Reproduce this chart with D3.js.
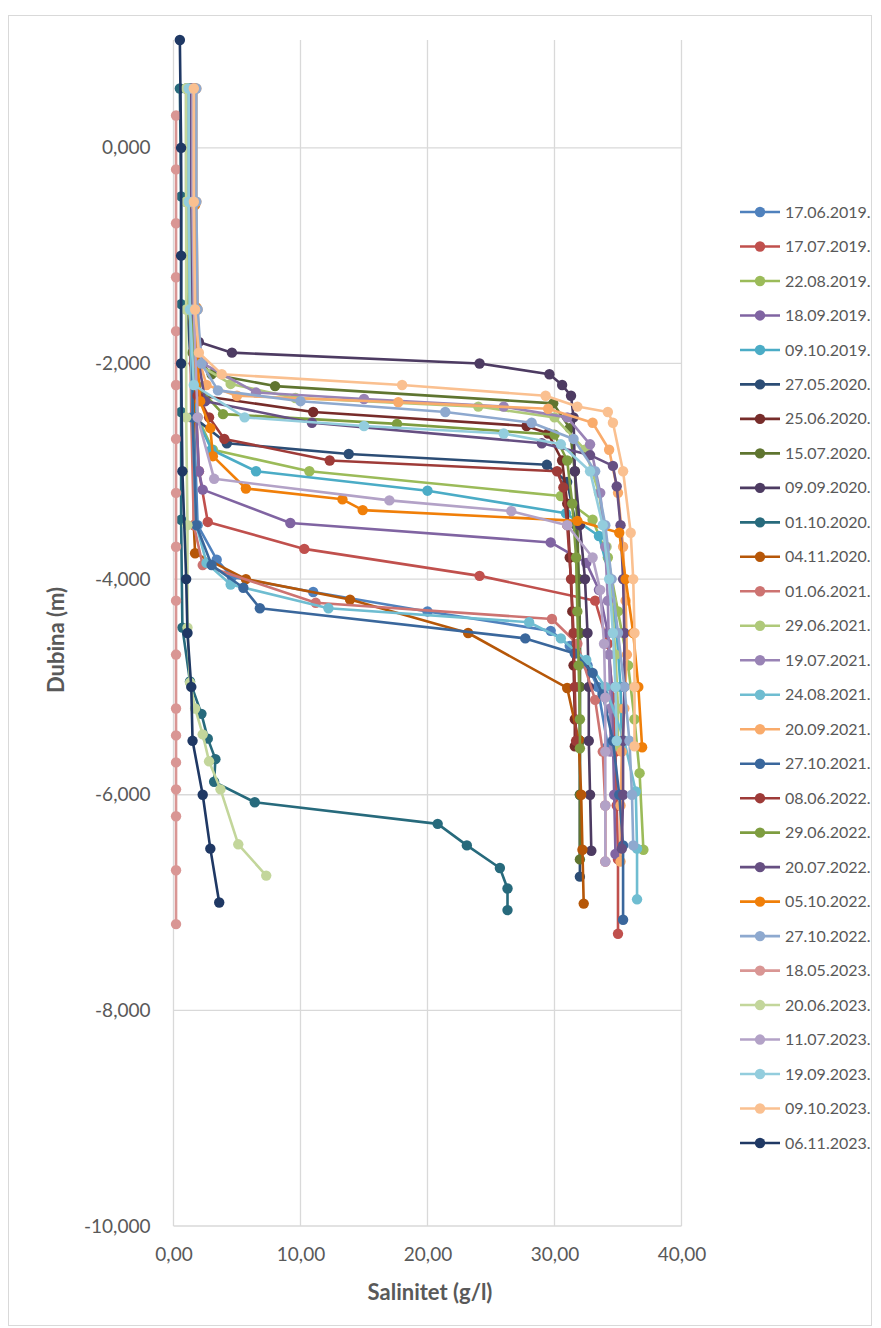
<!DOCTYPE html>
<html>
<head>
<meta charset="utf-8">
<script src="https://cdn.jsdelivr.net/npm/d3@7/dist/d3.min.js"></script>
<style>
  body { margin: 0; background: #fff; }
  text { font-family: Lato, "Open Sans", sans-serif; fill: #595959; }
</style>
</head>
<body>
<div id="chart"></div>
<script>
// each profile: [depth (m), salinity (g/l)]
var s20190617 = [[0.55,1.3],[-0.5,1.3],[-1.5,1.4],[-2.5,1.6],[-3.5,1.9],[-3.82,3.4],[-3.98,4.6],[-4.12,11.0],[-4.3,20.0],[-4.48,29.7],[-4.62,31.2],[-4.8,32.6],[-5.0,33.4],[-5.55,34.2]];
var s20190717 = [[0.55,1.6],[-0.5,1.6],[-1.5,1.7],[-2.5,1.8],[-3.0,2.0],[-3.47,2.7],[-3.72,10.3],[-3.97,24.1],[-4.2,33.2],[-4.6,34.2],[-5.1,34.6],[-5.6,34.8],[-6.1,34.9],[-6.6,35.0],[-7.29,35.0]];
var s20190822 = [[0.55,1.5],[-0.5,1.5],[-1.5,1.6],[-2.5,1.9],[-2.8,3.1],[-3.0,10.7],[-3.23,30.5],[-3.45,33.0],[-3.8,34.2],[-4.3,35.0],[-4.8,35.8],[-5.3,36.3],[-5.8,36.7],[-6.51,37.0]];
var s20190918 = [[0.55,1.5],[-0.5,1.5],[-1.5,1.6],[-2.5,1.8],[-3.0,2.0],[-3.17,2.3],[-3.48,9.2],[-3.66,29.7],[-3.85,32.5],[-4.1,33.5],[-4.5,34.2],[-5.0,34.5],[-5.5,34.6],[-6.0,34.7],[-6.55,34.8]];
var s20191009 = [[0.55,1.4],[-0.5,1.4],[-1.5,1.5],[-2.5,1.8],[-2.8,3.0],[-3.0,6.5],[-3.18,20.0],[-3.39,30.9],[-3.6,33.5],[-4.0,34.4],[-4.5,34.9],[-5.0,35.2],[-5.5,35.3]];
var s20200527 = [[0.55,1.0],[-0.5,1.0],[-1.5,1.1],[-2.5,1.6],[-2.74,4.2],[-2.84,13.8],[-2.94,29.4],[-3.1,31.0],[-3.5,31.7],[-4.0,31.9],[-4.5,32.0],[-5.0,32.0],[-5.5,32.0],[-6.0,32.0],[-6.76,32.0]];
var s20200625 = [[0.55,1.3],[-0.5,1.3],[-1.5,1.4],[-2.0,1.6],[-2.3,2.2],[-2.45,11.0],[-2.58,27.8],[-2.65,29.5],[-2.9,30.6],[-3.3,31.0],[-3.8,31.2],[-4.3,31.4],[-4.8,31.5],[-5.3,31.6],[-5.55,31.6]];
var s20200715 = [[0.55,1.1],[-0.5,1.1],[-1.5,1.2],[-1.9,1.5],[-2.1,3.0],[-2.21,8.0],[-2.37,29.9],[-2.6,31.2],[-3.0,31.6],[-3.5,31.8],[-4.0,31.9],[-4.5,32.0],[-5.0,32.0],[-5.5,32.0],[-6.0,32.0],[-6.6,32.0]];
var s20200909 = [[0.55,1.3],[-0.5,1.3],[-1.5,1.5],[-1.8,2.0],[-1.9,4.6],[-2.0,24.1],[-2.1,29.6],[-2.2,30.6],[-2.3,31.3],[-2.5,31.5],[-3.0,31.6],[-3.5,32.0],[-4.0,32.4],[-4.5,32.6],[-5.0,32.7],[-5.5,32.7],[-6.0,32.8],[-6.52,32.9]];
var s20201001 = [[0.55,0.5],[-0.45,0.6],[-1.45,0.6],[-2.45,0.6],[-3.45,0.6],[-4.45,0.7],[-4.95,1.3],[-5.25,2.2],[-5.48,2.7],[-5.67,3.3],[-5.88,3.2],[-6.07,6.4],[-6.27,20.8],[-6.47,23.1],[-6.68,25.7],[-6.87,26.3],[-7.07,26.3]];
var s20201104 = [[0.55,1.5],[-0.5,1.5],[-1.5,1.6],[-2.5,1.6],[-3.5,1.6],[-3.76,1.7],[-4.0,5.7],[-4.19,13.9],[-4.5,23.2],[-5.01,31.0],[-5.49,31.9],[-6.0,32.1],[-6.51,32.2],[-7.01,32.3]];
var s20210601 = [[0.55,1.2],[-0.5,1.2],[-1.5,1.3],[-2.5,1.4],[-3.5,1.6],[-3.87,2.3],[-4.22,11.2],[-4.37,29.8],[-4.6,31.8],[-5.12,33.2],[-5.6,33.8],[-6.1,34.0],[-6.62,34.0]];
var s20210629 = [[0.55,1.0],[-0.5,1.0],[-1.5,1.2],[-2.0,1.8],[-2.19,4.5],[-2.32,9.6],[-2.4,24.0],[-2.5,30.0],[-2.8,32.4],[-3.2,33.5],[-3.7,34.1],[-4.2,34.5],[-4.7,34.8],[-5.2,35.0],[-5.55,35.0]];
var s20210719 = [[0.55,1.6],[-0.5,1.6],[-1.5,1.7],[-2.0,2.3],[-2.27,6.5],[-2.33,15.0],[-2.4,26.0],[-2.5,31.0],[-2.75,32.8],[-3.2,33.6],[-3.7,34.0],[-4.2,34.2],[-4.7,34.3],[-5.2,34.4],[-5.6,34.4]];
var s20210824 = [[0.55,1.2],[-0.5,1.2],[-1.5,1.3],[-2.5,1.5],[-3.5,1.8],[-3.85,2.6],[-4.05,4.5],[-4.27,12.2],[-4.4,28.0],[-4.55,30.5],[-4.75,32.5],[-5.0,34.0],[-5.5,35.5],[-5.97,36.4],[-6.5,36.5],[-6.97,36.5]];
var s20210920 = [[0.55,1.8],[-0.5,1.8],[-1.5,1.9],[-2.0,2.1],[-2.2,2.6],[-2.3,5.0],[-2.36,17.7],[-2.42,29.5],[-2.55,33.0],[-2.8,34.3],[-3.2,35.0],[-3.7,35.4],[-4.2,35.6],[-4.7,35.7],[-5.2,35.5],[-5.6,35.3],[-6.1,35.2],[-6.62,35.2]];
var s20211027 = [[0.55,1.4],[-0.5,1.4],[-1.5,1.5],[-2.5,1.5],[-3.5,1.8],[-3.87,3.0],[-4.08,5.5],[-4.27,6.8],[-4.55,27.7],[-4.69,31.6],[-4.87,33.0],[-5.07,33.8],[-5.5,34.6],[-6.0,35.1],[-6.47,35.4],[-7.16,35.4]];
var s20220608 = [[0.55,1.5],[-0.5,1.5],[-1.5,1.6],[-2.3,1.9],[-2.5,2.8],[-2.7,4.0],[-2.9,12.3],[-3.0,30.2],[-3.15,30.7],[-3.5,31.0],[-4.0,31.3],[-4.5,31.5],[-5.0,31.6],[-5.5,31.7]];
var s20220629 = [[0.55,1.3],[-0.5,1.3],[-1.5,1.4],[-2.2,1.8],[-2.47,3.9],[-2.56,17.6],[-2.66,30.0],[-2.9,31.0],[-3.3,31.4],[-3.8,31.7],[-4.3,31.8],[-4.8,31.9],[-5.3,32.0],[-5.57,32.0]];
var s20220720 = [[0.55,1.4],[-0.5,1.4],[-1.5,1.5],[-2.0,2.0],[-2.35,2.5],[-2.55,10.9],[-2.74,29.0],[-2.85,32.8],[-2.95,34.6],[-3.14,34.9],[-3.5,35.2],[-4.0,35.4],[-4.5,35.5],[-5.0,35.5],[-5.5,35.4],[-6.0,35.4],[-6.5,35.3]];
var s20221005 = [[0.55,1.7],[-0.53,1.7],[-1.48,1.8],[-2.0,1.9],[-2.35,2.1],[-2.6,2.9],[-2.86,3.1],[-3.16,5.7],[-3.26,13.3],[-3.36,14.9],[-3.46,31.8],[-3.57,35.1],[-4.0,35.6],[-4.5,36.2],[-5.0,36.6],[-5.56,36.9]];
var s20221027 = [[0.55,1.8],[-0.5,1.8],[-1.5,1.9],[-2.0,2.2],[-2.25,3.5],[-2.35,10.0],[-2.45,21.4],[-2.55,28.2],[-2.7,31.5],[-3.0,33.2],[-3.5,34.0],[-4.0,34.5],[-4.5,35.0],[-5.0,35.5],[-5.5,35.9],[-6.0,36.1],[-6.47,36.2]];
var s20230518 = [[0.3,0.2],[-0.2,0.2],[-0.7,0.2],[-1.2,0.2],[-1.7,0.2],[-2.2,0.2],[-2.7,0.2],[-3.2,0.2],[-3.7,0.2],[-4.2,0.2],[-4.7,0.2],[-5.2,0.2],[-5.45,0.2],[-5.7,0.2],[-5.95,0.2],[-6.2,0.2],[-6.7,0.2],[-7.2,0.2]];
var s20230620 = [[0.55,1.0],[-0.5,1.0],[-1.5,1.0],[-2.5,1.0],[-3.5,1.1],[-4.45,1.1],[-4.96,1.3],[-5.2,1.7],[-5.44,2.3],[-5.69,2.8],[-5.95,3.7],[-6.46,5.1],[-6.75,7.3]];
var s20230711 = [[0.55,1.5],[-0.5,1.5],[-1.5,1.6],[-2.5,1.9],[-3.07,3.2],[-3.27,17.0],[-3.37,26.6],[-3.5,31.0],[-3.8,33.0],[-4.1,33.6],[-4.6,33.9],[-5.1,34.0],[-5.6,34.0],[-6.1,34.0],[-6.62,34.0]];
var s20230919 = [[0.55,1.2],[-0.5,1.2],[-1.5,1.3],[-2.2,1.6],[-2.5,5.6],[-2.58,15.0],[-2.65,26.0],[-2.75,30.5],[-3.0,32.8],[-3.5,33.8],[-4.0,34.3],[-4.5,34.6],[-5.0,34.8],[-5.5,34.9]];
var s20231009 = [[0.55,1.6],[-0.5,1.6],[-1.5,1.7],[-1.9,2.0],[-2.1,3.8],[-2.2,18.0],[-2.3,29.3],[-2.4,31.8],[-2.45,34.2],[-2.55,34.6],[-3.0,35.4],[-3.57,36.0],[-4.0,36.2],[-4.5,36.3],[-5.0,36.3],[-5.55,36.3]];
var s20231106 = [[1.0,0.5],[0,0.6],[-1,0.6],[-2,0.6],[-3,0.7],[-4,1.0],[-4.5,1.1],[-5,1.4],[-5.5,1.5],[-6,2.3],[-6.5,2.9],[-7,3.6]];

var seriesNames = ["17.06.2019.","17.07.2019.","22.08.2019.","18.09.2019.","09.10.2019.","27.05.2020.","25.06.2020.",
  "15.07.2020.","09.09.2020.","01.10.2020.","04.11.2020.","01.06.2021.","29.06.2021.","19.07.2021.","24.08.2021.",
  "20.09.2021.","27.10.2021.","08.06.2022.","29.06.2022.","20.07.2022.","05.10.2022.","27.10.2022.","18.05.2023.",
  "20.06.2023.","11.07.2023.","19.09.2023.","09.10.2023.","06.11.2023."];
var seriesData = [s20190617,s20190717,s20190822,s20190918,s20191009,s20200527,s20200625,s20200715,s20200909,
  s20201001,s20201104,s20210601,s20210629,s20210719,s20210824,s20210920,s20211027,s20220608,s20220629,s20220720,
  s20221005,s20221027,s20230518,s20230620,s20230711,s20230919,s20231009,s20231106];
var seriesColors = ["#4F81BD","#C0504D","#9BBB59","#8064A2","#4BACC6","#2C4D75","#772C2A","#5F7530","#4D3B62",
  "#276A7C","#B65708","#CD7371","#AFC97A","#9983B5","#6FBDD1","#F9AB6B","#3A679C","#9E3B38","#7E9D40","#664F82",
  "#F07F09","#8EA9CF","#D99694","#C3D69B","#B3A2C7","#93CDDD","#FAC090","#1F3864"];

var xTicks = [0, 10, 20, 30, 40];
var yTicks = [0, -2, -4, -6, -8, -10];

var W = 881, H = 1328;
var svg = d3.select("#chart").append("svg").attr("width", W).attr("height", H);

svg.append("rect").attr("x", 8.5).attr("y", 15.5).attr("width", 863).attr("height", 1310)
    .style("fill", "#fff").style("stroke", "#D9D9D9");

var x = d3.scaleLinear().domain([0, 40]).range([173.5, 681.5]);
var y = d3.scaleLinear().domain([-10, 1]).range([1226, 40]);

// grid
var grid = svg.append("g");
grid.selectAll("line.v").data(xTicks.slice(1)).enter().append("line")
    .attr("x1", function (d) { return x(d); }).attr("x2", function (d) { return x(d); })
    .attr("y1", y(1)).attr("y2", y(-10))
    .style("stroke", "#D9D9D9").style("stroke-width", 1.3);
grid.selectAll("line.h").data(yTicks).enter().append("line")
    .attr("x1", x(0)).attr("x2", x(40))
    .attr("y1", function (d) { return y(d); }).attr("y2", function (d) { return y(d); })
    .style("stroke", "#D9D9D9").style("stroke-width", 1.3);
grid.append("line").attr("x1", x(0)).attr("x2", x(0)).attr("y1", y(1)).attr("y2", y(-10))
    .style("stroke", "#D9D9D9").style("stroke-width", 1.3);

var fmt = function (dec) {
    return function (d) { return d.toFixed(dec).replace(".", ","); };
};

var yAxis = svg.append("g").attr("transform", "translate(" + x(0) + ",0)")
    .call(d3.axisLeft(y).tickValues(yTicks).tickSize(0).tickPadding(23).tickFormat(fmt(3)));
var xAxis = svg.append("g").attr("transform", "translate(0," + y(-10) + ")")
    .call(d3.axisBottom(x).tickValues(xTicks).tickSize(0).tickPadding(22).tickFormat(fmt(2)));
[yAxis, xAxis].forEach(function (a) {
    a.select(".domain").remove();
    a.selectAll("text").style("font-size", "19px").style("fill", "#595959").attr("font-family", null);
});

svg.append("text").attr("transform", "translate(64,640) rotate(-90)")
    .attr("text-anchor", "middle").style("font-size", "22px").style("font-weight", "bold")
    .text("Dubina (m)");
svg.append("text").attr("x", 430).attr("y", 1300)
    .attr("text-anchor", "middle").style("font-size", "22px").style("font-weight", "bold")
    .text("Salinitet (g/l)");

// profiles
var line = d3.line()
    .x(function (d) { return x(d[1]); })
    .y(function (d) { return y(d[0]); });

var plot = svg.append("g");
seriesData.forEach(function (data, i) {
    var g = plot.append("g");
    g.append("path").attr("d", line(data))
        .style("fill", "none").style("stroke", seriesColors[i])
        .style("stroke-width", 2.6).style("stroke-linejoin", "round");
    g.selectAll("circle").data(data).enter().append("circle")
        .attr("cx", function (d) { return x(d[1]); })
        .attr("cy", function (d) { return y(d[0]); })
        .attr("r", 5.2)
        .style("fill", seriesColors[i]);
});

// legend
var legend = svg.append("g");
var ly = d3.scaleLinear().domain([0, seriesNames.length - 1]).range([212, 1143]);
var item = legend.selectAll("g").data(seriesNames).enter().append("g")
    .attr("transform", function (d, i) { return "translate(0," + ly(i) + ")"; });
item.append("line").attr("x1", 740).attr("x2", 780).attr("y1", 0).attr("y2", 0)
    .style("stroke", function (d, i) { return seriesColors[i]; }).style("stroke-width", 2.6);
item.append("circle").attr("cx", 760).attr("cy", 0).attr("r", 5.2)
    .style("fill", function (d, i) { return seriesColors[i]; });
item.append("text").attr("x", 785).attr("y", 0).attr("dy", "0.35em")
    .style("font-size", "16px").text(function (d) { return d; });
</script>
</body>
</html>
